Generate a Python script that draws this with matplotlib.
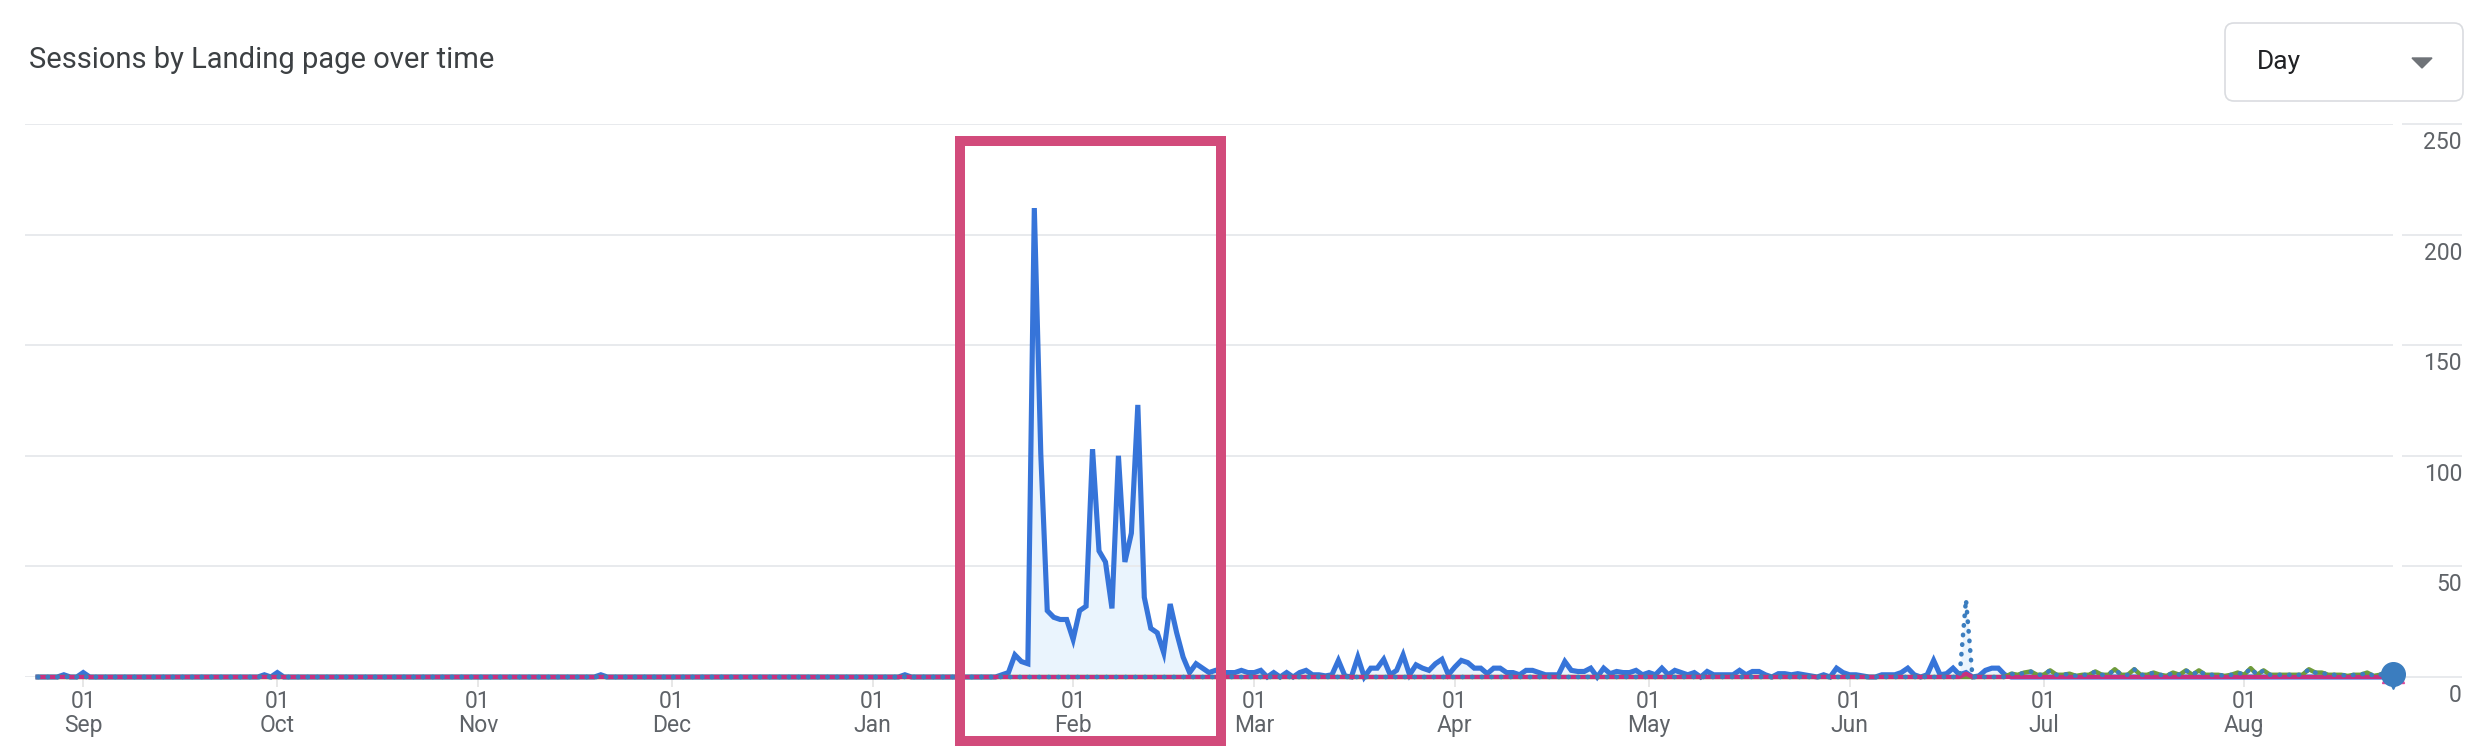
import matplotlib
matplotlib.use("Agg")
import matplotlib.pyplot as plt
import pandas as pd
from matplotlib.patches import Rectangle, FancyBboxPatch, Polygon
from matplotlib.transforms import IdentityTransform, ScaledTranslation

plt.rcParams['font.family'] = ['Roboto', 'DejaVu Sans']

# daily sessions, 25 Aug 2022 .. 24 Aug 2023
dates = pd.date_range('2022-08-25', '2023-08-24', freq='D')

main_aug22 = [0, 0, 0, 0, 1, 0, 0]
main_sep = [2] + [0] * 27 + [1, 0]
main_oct = [2] + [0] * 30
main_nov = [0] * 19 + [1] + [0] * 10
main_dec = [0] * 31
main_jan = [0, 0, 0, 0, 0, 1, 0, 0, 0, 0, 0, 0, 0, 0, 0, 0, 0, 0, 0, 0,
            1, 2, 10, 7, 6, 212, 101, 30, 27, 26, 26]
main_feb = [17, 30, 32, 103, 57, 52, 31, 100, 52, 65, 123, 36, 22, 20, 11,
            33, 20, 9, 2, 6, 4, 2, 3, 2, 2, 2, 3, 2]
main_mar = [2, 3, 0, 2, 0, 2, 0, 2, 3, 1, 1, 0.5, 1, 7.5, 0.5, 0, 9, 0, 4, 4,
            8, 1, 3, 10, 1, 5.5, 4, 3, 6, 8, 1]
main_apr = [4.5, 7.5, 6.5, 4, 4, 1.5, 4, 4, 2, 2, 1, 3, 3, 2, 1, 1, 1, 7, 3, 2.5,
            2.5, 4, 0, 4, 1.5, 2.5, 2, 2, 3, 1]
main_may = [2, 1, 4, 1, 3, 2, 1, 2, 0, 2.5, 1, 1, 1, 1, 3, 1, 2.5, 2.5, 1, 0,
            1.5, 1.5, 1, 1.5, 1, 0.5, 0, 1, 0, 4, 2]
main_jun = [1, 1, 0.5, 0, 0, 1, 1, 1, 2, 4, 1, 0, 1, 7.5, 1, 1.5, 4, 1, 2, 0,
            0.5, 3, 4, 4, 1, 0, 0, 0, 0, 0]
main_jul = [0] * 31
main_aug23 = [0] * 24

green_before = [0] * (7 + 30 + 31 + 30 + 31 + 31 + 28 + 31 + 30 + 31)
green_jun = [0] * 25 + [1.5, 1, 2, 2.5, 1]
green_jul = [1, 3, 1, 1, 1.5, 0.5, 1, 1, 2.5, 1, 1, 3.5, 1, 1, 3.5, 1, 1, 2, 1, 0.5,
             2, 1, 3, 1, 3, 1, 1, 1, 0.5, 1, 2]
green_aug23 = [1, 4, 1, 3, 1, 1, 1, 1, 1, 1, 3.5, 2, 2, 1, 1, 1, 0.5, 1, 1, 2,
               0.5, 1, 2.5, 1.5]

dotted_jun = [0] * 18 + [35] + [0] * 6 + [1.5, 1, 2, 2.5, 1]
pink_jun = [0] * 18 + [1.5] + [0] * 11

main = (main_aug22 + main_sep + main_oct + main_nov + main_dec + main_jan + main_feb
        + main_mar + main_apr + main_may + main_jun + main_jul + main_aug23)
green = green_before + green_jun + green_jul + green_aug23
dotted = green_before + dotted_jun + green_jul + green_aug23
pink = green_before + pink_jun + [0] * 31 + [0] * 24

y_ticks = [0, 50, 100, 150, 200, 250]
month_starts = pd.date_range('2022-09-01', '2023-08-01', freq='MS')
month_labels = ['01\n' + d.strftime('%b') for d in month_starts]

W, H = 2492, 750
fig = plt.figure(figsize=(W / 100, H / 100), dpi=100)
ax = fig.add_axes([25 / W, 73 / H, 2368 / W, 553 / H])

ax.fill_between(dates, main, 0, color='#eaf4fd', lw=0, zorder=1)
ax.fill_between(dates, dotted, 0, color='#eaf4fd', lw=0, zorder=1)
ax.plot(dates, main, color='#3674d9', lw=3.7, solid_joinstyle='miter', zorder=3, clip_on=False)
ax.plot(dates, green, color='#6e9b3b', lw=3.2, zorder=4, clip_on=False)
ax.plot(dates, pink, color='#c8307f', lw=3, zorder=5, clip_on=False)
ax.plot(dates, dotted, color='#3b7dbf', lw=3.3, ls=(0, (0.1, 2)),
        dash_capstyle='round', zorder=6, clip_on=False)

# hover marker at the last point
ax.plot(dates[-1:], dotted[-1:], 'o', ms=17, color='#3b7dbf', zorder=8, clip_on=False)
ax.plot(dates[-1:], [-2.5], 'v', ms=9, color='#3b7dbf', zorder=8, clip_on=False)
ax.plot([dates[-1] - pd.Timedelta(hours=30), dates[-1] + pd.Timedelta(hours=30)],
        [-1.5, -1.5], '^', ms=5, color='#e0469a', zorder=7, clip_on=False)

ax.set_xlim(pd.Timestamp('2022-08-23'), dates[-1])
ax.set_ylim(0, 250)

for s in ax.spines.values():
    s.set_visible(False)

ax.set_yticks(y_ticks)
ax.set_yticklabels([])
ax.yaxis.grid(True, color='#e8eaed', lw=1.4)
ax.tick_params(axis='y', length=0)
ax.hlines(y_ticks, 1 + 9 / 2368, 1 + 69 / 2368, transform=ax.get_yaxis_transform(),
          color='#e8eaed', lw=1.4, clip_on=False, zorder=0)
lab_tr = ax.get_yaxis_transform() + ScaledTranslation(0, -7 / 100, fig.dpi_scale_trans)
for v in y_ticks:
    ax.text(1 + 69 / 2368, v, str(v), transform=lab_tr, ha='right', va='top',
            fontsize=16.5, color='#5f6368')

ax.set_xticks(month_starts)
ax.set_xticklabels(month_labels, linespacing=1.1)
ax.tick_params(axis='x', length=7, width=1.2, color='#e3e3e3', pad=2,
               labelsize=16.5, labelcolor='#5f6368')

fig.text(29 / W, 1 - 60 / H, 'Sessions by Landing page over time', fontsize=21,
         color='#3c4043', va='center', ha='left')

# highlight box
fig.add_artist(Rectangle((960 / W, 1 - 741 / H), 261 / W, 600 / H, transform=fig.transFigure,
                         fill=False, ec='#d24b7b', lw=7.2, joinstyle='miter', zorder=10))

# "Day" dropdown
fig.add_artist(FancyBboxPatch((2225, H - 101), 238, 78, boxstyle='round,pad=0,rounding_size=9',
                              transform=IdentityTransform(), fc='white', ec='#dadce0', lw=1.2))
fig.text(2257 / W, 1 - 62 / H, 'Day', fontsize=19, color='#202124', va='center', ha='left')
fig.add_artist(Polygon([(2412, H - 58), (2432, H - 58), (2422, H - 68)],
                       transform=IdentityTransform(), color='#6f7378'))

fig.savefig('out.png', dpi=100)
